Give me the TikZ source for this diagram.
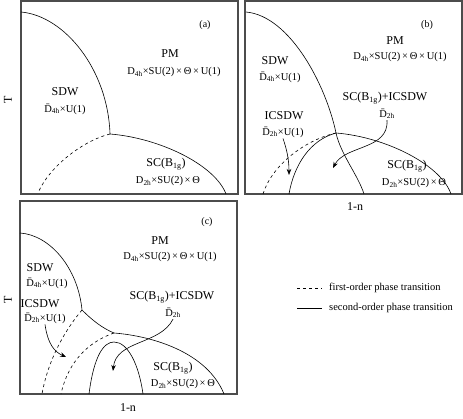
\documentclass[tikz,border=0pt]{standalone}
\usepackage{fontspec}
\setmainfont{Liberation Serif}
\usetikzlibrary{arrows.meta}

\begin{document}
\begin{tikzpicture}[x=1pt,y=-1pt,
  frame/.style={draw=black!70,line width=1.1pt},
  phase/.style={line width=0.6pt},
  first/.style={phase,dash pattern=on 3pt off 3pt},
  ptr/.style={line width=0.6pt,-{Stealth[length=6pt,width=4.5pt]}},
  lbl/.style={font=\fontsize{12}{14}\selectfont,inner sep=1pt},
  sym/.style={font=\fontsize{10.5}{12}\selectfont,inner sep=1pt},
  tag/.style={font=\fontsize{10}{12}\selectfont,inner sep=1pt}]
\useasboundingbox (0,0) rectangle (463,419);

\draw[frame] (21,1) rectangle (238,194);
\draw[frame] (245,1) rectangle (462,194);
\draw[frame] (20,201) rectangle (237,394);

\draw[phase] (21,12) .. controls (65,16) and (108,70) .. (110,134);
\draw[phase] (110,134) .. controls (160,138) and (215,165) .. (226,194);
\draw[first] (110,134) .. controls (85,140) and (50,165) .. (38,193);

\draw[phase] (246,12) .. controls (290,16) and (326,85) .. (336,133) .. controls (341,155) and (358,175) .. (364,194);
\draw[phase] (336,133) .. controls (386,137) and (441,165) .. (451,194);
\draw[phase] (289,194) .. controls (294,165) and (310,140) .. (336,133);
\draw[first] (336,133) .. controls (305,140) and (272,165) .. (263,194);

\draw[phase] (20,233) .. controls (50,235) and (78,268) .. (82,310) .. controls (92,320) and (102,328) .. (114,333) .. controls (152,336) and (207,352) .. (224,394);
\draw[first] (82,310) .. controls (65,330) and (48,360) .. (42,394);
\draw[first] (114,333) .. controls (88,342) and (68,362) .. (61,394);
\draw[phase] (89,394) .. controls (94,355) and (104,342) .. (114,342) .. controls (128,342) and (139,365) .. (143,394);

\node[tag] (atag) at (205,25) {(a)};
\node[lbl] (apm) at (170,54) {PM};
\node[sym] (apms) at (174,72) {D\textsubscript{4h}×SU(2)\,×\,Θ\,×\,U(1)};
\node[lbl] (asdw) at (65,92) {SDW};
\node[sym] (asdws) at (65,109) {\=D\textsubscript{4h}×U(1)};
\node[lbl] (asc) at (166,164) {SC(B\textsubscript{1g})};
\node[sym] (ascs) at (168,181) {D\textsubscript{2h}×SU(2)\,×\,Θ};
\node[lbl,rotate=90] (aT) at (8,100) {T};

\node[tag] (btag) at (427,25) {(b)};
\node[lbl] (bpm) at (395,41) {PM};
\node[sym] (bpms) at (400,57) {D\textsubscript{4h}×SU(2)\,×\,Θ\,×\,U(1)};
\node[lbl] (bsdw) at (275,61) {SDW};
\node[sym] (bsdws) at (280,77) {\=D\textsubscript{4h}×U(1)};
\node[lbl] (bmix) at (385,98) {SC(B\textsubscript{1g})+ICSDW};
\node[sym] (bmixs) at (387,114) {\=D\textsubscript{2h}};
\node[lbl] (bic) at (284,116) {ICSDW};
\node[sym] (bics) at (283,132) {\=D\textsubscript{2h}×U(1)};
\node[lbl] (bsc) at (407,166) {SC(B\textsubscript{1g})};
\node[sym] (bscs) at (414,183) {D\textsubscript{2h}×SU(2)\,×\,Θ};
\node[lbl] (bn) at (355,207) {1-n};
\coordinate (bicEnd) at (289,175);
\coordinate (bmixEnd) at (333,168);
\draw[ptr] (bics.south) .. controls (287,150) and (289,160) .. (bicEnd);
\draw[ptr] (bmixs.south) .. controls (389,150) and (345,145) .. (bmixEnd);

\node[tag] (ctag) at (207,222) {(c)};
\node[lbl] (cpm) at (160,241) {PM};
\node[sym] (cpms) at (170,257) {D\textsubscript{4h}×SU(2)\,×\,Θ\,×\,U(1)};
\node[lbl] (csdw) at (40,268) {SDW};
\node[sym] (csdws) at (47,283) {\=D\textsubscript{4h}×U(1)};
\node[lbl] (cic) at (40,304) {ICSDW};
\node[sym] (cics) at (45,318) {\=D\textsubscript{2h}×U(1)};
\node[lbl] (cmix) at (172,297) {SC(B\textsubscript{1g})+ICSDW};
\node[sym] (cmixs) at (173,313) {\=D\textsubscript{2h}};
\node[lbl] (csc) at (173,368) {SC(B\textsubscript{1g})};
\node[sym] (cscs) at (183,384) {D\textsubscript{2h}×SU(2)\,×\,Θ};
\node[lbl] (cn) at (128,408) {1-n};
\node[lbl,rotate=90] (cT) at (8,300) {T};
\coordinate (cicEnd) at (66,357);
\coordinate (cmixEnd) at (113,371);
\draw[ptr] (cics.south) .. controls (48,345) and (55,352) .. (cicEnd);
\draw[ptr] (cmixs.south) .. controls (160,345) and (116,340) .. (cmixEnd);

\draw[first] (297,288) -- (322,288);
\node[sym,anchor=west] (lfirst) at (328,288) {first-order phase transition};
\draw[phase] (297,308) -- (322,308);
\node[sym,anchor=west] (lsecond) at (328,308) {second-order phase transition};

\end{tikzpicture}
\end{document}
